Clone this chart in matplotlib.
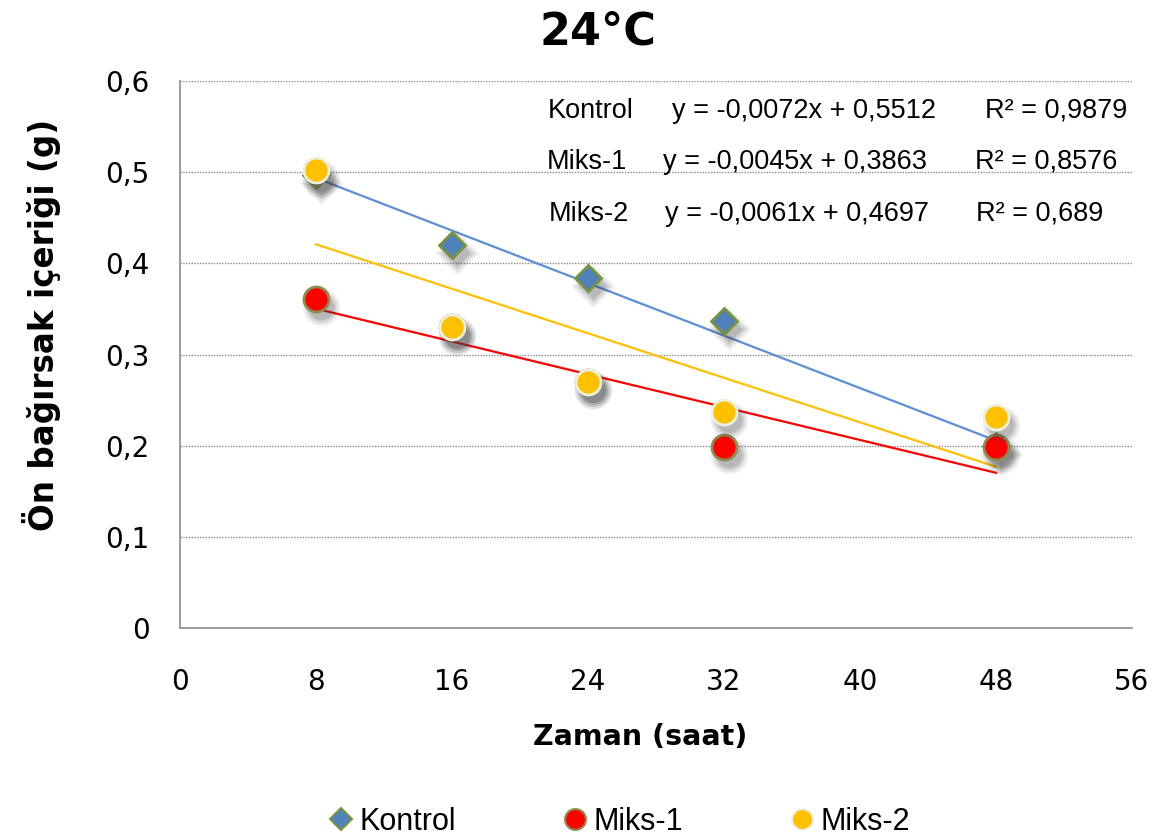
import numpy as np
import matplotlib
matplotlib.use('Agg')
from matplotlib import pyplot as plt
from matplotlib.lines import Line2D
from matplotlib.transforms import ScaledTranslation

# sampling times (hours)
hours = [8, 16, 24, 32, 48]

# foregut content (g)
kontrol = [0.497, 0.420, 0.384, 0.337, 0.200]
miks1 = [0.361, 0.330, 0.270, 0.199, 0.199]
miks2 = [0.502, 0.330, 0.270, 0.237, 0.232]

# linear trend coefficients (slope, intercept, R2)
trend_kontrol = (-0.0072, 0.5512, 0.9879)
trend_miks1 = (-0.0045, 0.3863, 0.8576)
trend_miks2 = (-0.0061, 0.4697, 0.689)

names = ['Kontrol', 'Miks-1', 'Miks-2']
xticks = [0, 8, 16, 24, 32, 40, 48, 56]
yticks = [0, 0.1, 0.2, 0.3, 0.4, 0.5, 0.6]


def comma(v, nd):
    return ('%.*f' % (nd, v)).replace('.', ',')


narrow = ['Liberation Sans', 'DejaVu Sans']
tickfont = ['DejaVu Sans']

fig = plt.figure(figsize=(11.58, 8.38), dpi=100)
ax = fig.add_axes([0.1554, 0.2506, 0.822, 0.6527])

# soft drop shadow: a few faint enlarged copies shifted down-right
shadow_tr = ax.transData + ScaledTranslation(4/72, -6/72, fig.dpi_scale_trans)


def soft_shadow(x, y, marker, ms, z):
    for grow, a in [(9, 0.07), (6, 0.09), (3, 0.12), (0, 0.15)]:
        ax.plot(x, y, ls='none', marker=marker, ms=ms + grow, mfc='#404040',
                mec='none', alpha=a, transform=shadow_tr, zorder=z)


# trend lines over the sampled range
xs = np.array([min(hours), max(hours)])
for (a, b, r2), col in zip([trend_kontrol, trend_miks2, trend_miks1],
                           ['#5b8fd6', '#ffc000', '#ff0000']):
    ax.plot(xs, a*xs + b, color=col, lw=1.6, zorder=2)

soft_shadow(hours, kontrol, 'D', 13, 2.5)
ax.plot(hours, kontrol, ls='none', marker='D', ms=13, mfc='#4f81bd',
        mec='#77933c', mew=2, zorder=3)
soft_shadow(hours, miks1, 'o', 18, 3.5)
ax.plot(hours, miks1, ls='none', marker='o', ms=18, mfc='#ff0000',
        mec='#8c8c50', mew=2, zorder=4)
soft_shadow(hours, miks2, 'o', 18, 4.5)
ax.plot(hours, miks2, ls='none', marker='o', ms=18, mfc='#ffc000',
        mec='#ebf1de', mew=2, zorder=5)

ax.set_xlim(0, 56)
ax.set_ylim(0, 0.6)
ax.set_xticks(xticks)
ax.set_yticks(yticks)
ax.set_xticklabels([str(t) for t in xticks], fontsize=20, family=tickfont)
ax.set_yticklabels([comma(t, 1) if t else '0' for t in yticks], fontsize=20,
                   family=tickfont)
ax.tick_params(axis='y', length=0, pad=22)
ax.tick_params(axis='x', length=0, pad=29)
ax.yaxis.grid(True, ls=(0, (1, 1)), color='#8c8c8c', lw=1)
ax.set_axisbelow(True)
for s in ['top', 'right']:
    ax.spines[s].set_visible(False)
for s in ['left', 'bottom']:
    ax.spines[s].set_color('#8c8c8c')
    ax.spines[s].set_linewidth(1.2)

fig.text(0.516, 0.962, '24°C', ha='center', va='center', fontsize=32,
         fontweight='bold', family=tickfont)
fig.text(0.036, 0.612, 'Ön bağırsak içeriği (g)', ha='center', va='center',
         rotation=90, fontsize=23.5, fontweight='bold', family=tickfont)
fig.text(0.553, 0.121, 'Zaman (saat)', ha='center', va='center', fontsize=20.5,
         fontweight='bold', family=tickfont)

# regression equations
rows = [(trend_kontrol, 0.868, 548, 672, 985),
        (trend_miks1, 0.807, 547, 663, 975),
        (trend_miks2, 0.745, 549, 665, 976)]
for name, ((a, b, r2), yy, x0, x1, x2) in zip(names, rows):
    fig.text(x0/1158, yy, name, fontsize=19.5, family=narrow, va='center')
    eq = 'y = %s%sx + %s' % ('-' if a < 0 else '', comma(abs(a), 4), comma(b, 4))
    fig.text(x1/1158, yy, eq, fontsize=19.5, family=narrow, va='center')
    r2s = ('%g' % r2).replace('.', ',')
    fig.text(x2/1158, yy, 'R² = ' + r2s, fontsize=19.5, family=narrow, va='center')

handles = [
    Line2D([], [], ls='none', marker='D', ms=11, mfc='#4f81bd', mec='#77933c', mew=1.5),
    Line2D([], [], ls='none', marker='o', ms=15, mfc='#ff0000', mec='#8c8c50', mew=1.5),
    Line2D([], [], ls='none', marker='o', ms=15, mfc='#ffc000', mec='#ebf1de', mew=1.5),
]
fig.legend(handles, names, loc='center', bbox_to_anchor=(0.535, 0.019), ncol=3,
           frameon=False, handlelength=0.8, handletextpad=0.2, columnspacing=3.5,
           prop={'family': narrow, 'size': 22})

fig.savefig('out.png', dpi=100)
